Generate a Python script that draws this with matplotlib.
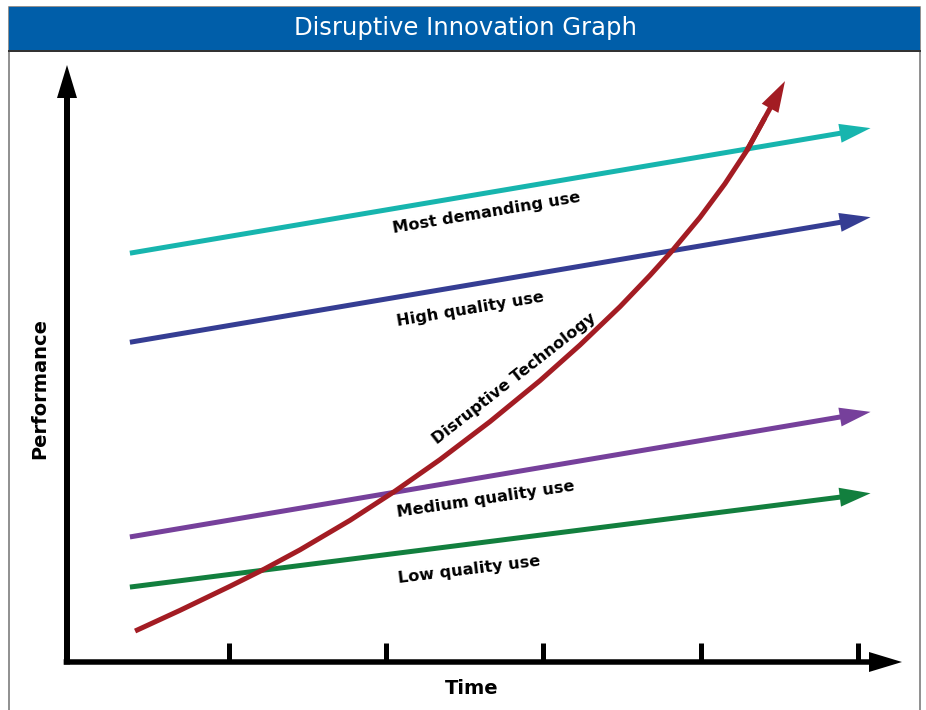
import matplotlib
matplotlib.use("Agg")
import matplotlib.pyplot as plt
from matplotlib.patches import FancyArrowPatch, Rectangle, ArrowStyle
from matplotlib.lines import Line2D

W, H, DPI = 926, 710, 100
PX = 72 / DPI  # points per pixel

# ---- data -------------------------------------------------------------
use_labels = ["Most demanding use", "High quality use",
              "Medium quality use", "Low quality use"]
use_time = [0.37, 5.08]
most_demanding = [6.93, 9.05]
high_quality = [5.42, 7.54]
medium_quality = [2.12, 4.24]
low_quality = [1.27, 2.86]

disruptive_time = [0.403, 0.689, 1.006, 1.216, 1.452, 1.770, 2.056, 2.342,
                   2.660, 2.978, 3.232, 3.487, 3.677, 3.817, 3.995, 4.154,
                   4.294, 4.408, 4.536]
disruptive_perf = [0.525, 0.876, 1.283, 1.563, 1.902, 2.402, 2.897, 3.431,
                   4.075, 4.770, 5.373, 6.024, 6.553, 6.966, 7.536, 8.107,
                   8.673, 9.225, 9.847]

time_ticks = [1, 2, 3, 4, 5]

# ---- styles -----------------------------------------------------------
colors = ["#17b5ae", "#353d93", "#76409b", "#127f3e"]
red = "#a31c23"
title_blue = "#005ea9"


def fx(px):
    return px / W


def fy(py):
    return 1 - py / H


def arrow_style(head_len, head_w, tail_w):
    return ArrowStyle.Simple(head_length=head_len * PX,
                             head_width=head_w * PX,
                             tail_width=tail_w * PX)


fig = plt.figure(figsize=(W / DPI, H / DPI), dpi=DPI, facecolor="white")

# frame and title bar
fig.add_artist(Rectangle((fx(9), fy(720)), (920 - 9) / W, (720 - 7) / H,
                         transform=fig.transFigure, facecolor="white",
                         edgecolor="#6e6e6e", lw=1.5 * PX, zorder=0))
fig.add_artist(Rectangle((fx(9), fy(51)), (920 - 9) / W, (51 - 7) / H,
                         transform=fig.transFigure, facecolor=title_blue,
                         edgecolor="none", zorder=1))
fig.add_artist(Line2D([fx(9), fx(920)], [fy(51), fy(51)],
                      transform=fig.transFigure, color="#333333",
                      lw=2 * PX, zorder=2))
fig.text(fx(465), fy(28), "Disruptive Innovation Graph", color="white",
         fontsize=17.5, ha="center", va="center", family="DejaVu Sans")

# plotting area bounded by the two axis arrows
ax = fig.add_axes([fx(67), fy(662), (902 - 67) / W, (662 - 65) / H])
ax.set_xlim(-0.030, 5.280)
ax.set_ylim(0, 10.12)
ax.patch.set_alpha(0)
for s in ax.spines.values():
    s.set_visible(False)
ax.set_xticks(time_ticks)
ax.set_xticklabels([])
ax.set_yticks([])
ax.tick_params(axis="x", direction="in", length=19 * PX, width=5 * PX,
               color="black")

# axis arrows
ax.add_patch(FancyArrowPatch((-0.004, 0), (1, 0), transform=ax.transAxes,
                             arrowstyle=arrow_style(33, 20, 5.5),
                             mutation_scale=1, shrinkA=0, shrinkB=0,
                             color="black", lw=0, clip_on=False, zorder=3))
ax.add_patch(FancyArrowPatch((0, -0.004), (0, 1), transform=ax.transAxes,
                             arrowstyle=arrow_style(33, 20, 6),
                             mutation_scale=1, shrinkA=0, shrinkB=0,
                             color="black", lw=0, clip_on=False, zorder=3))

# market demand trajectories
for vals, c in zip([most_demanding, high_quality, medium_quality, low_quality],
                   colors):
    ax.add_patch(FancyArrowPatch((use_time[0], vals[0]),
                                 (use_time[1], vals[1]),
                                 arrowstyle=arrow_style(31, 19, 5),
                                 mutation_scale=1, shrinkA=0, shrinkB=0,
                                 color=c, lw=0, clip_on=False, zorder=4))

# disruptive technology trajectory
ax.plot(disruptive_time[:-1], disruptive_perf[:-1], color=red, lw=5 * PX,
        solid_capstyle="butt", solid_joinstyle="round", zorder=5,
        clip_on=False)
ax.add_patch(FancyArrowPatch((disruptive_time[-3], disruptive_perf[-3]),
                             (disruptive_time[-1], disruptive_perf[-1]),
                             arrowstyle=arrow_style(31, 19, 5),
                             mutation_scale=1, shrinkA=0, shrinkB=0,
                             color=red, lw=0, clip_on=False, zorder=5))

# labels
label_font = dict(fontsize=11.6, fontweight="bold", family="DejaVu Sans",
                  ha="center", va="center", rotation_mode="anchor")
label_pos = [(2.641, 7.61, 9.5), (2.532, 5.98, 9.5),
             (2.634, 2.75, 8.5), (2.526, 1.56, 7.0)]
for text, (tx, ty, rot) in zip(use_labels, label_pos):
    ax.text(tx, ty, text, rotation=rot, **label_font)
ax.text(2.812, 4.80, "Disruptive Technology", rotation=38, **label_font)

fig.text(fx(40), fy(388), "Performance", rotation=90, fontsize=14,
         fontweight="bold", ha="center", va="center", family="DejaVu Sans")
fig.text(fx(472), fy(688), "Time", fontsize=14, fontweight="bold",
         ha="center", va="center", family="DejaVu Sans")

fig.savefig("out.png", dpi=DPI, facecolor="white")
